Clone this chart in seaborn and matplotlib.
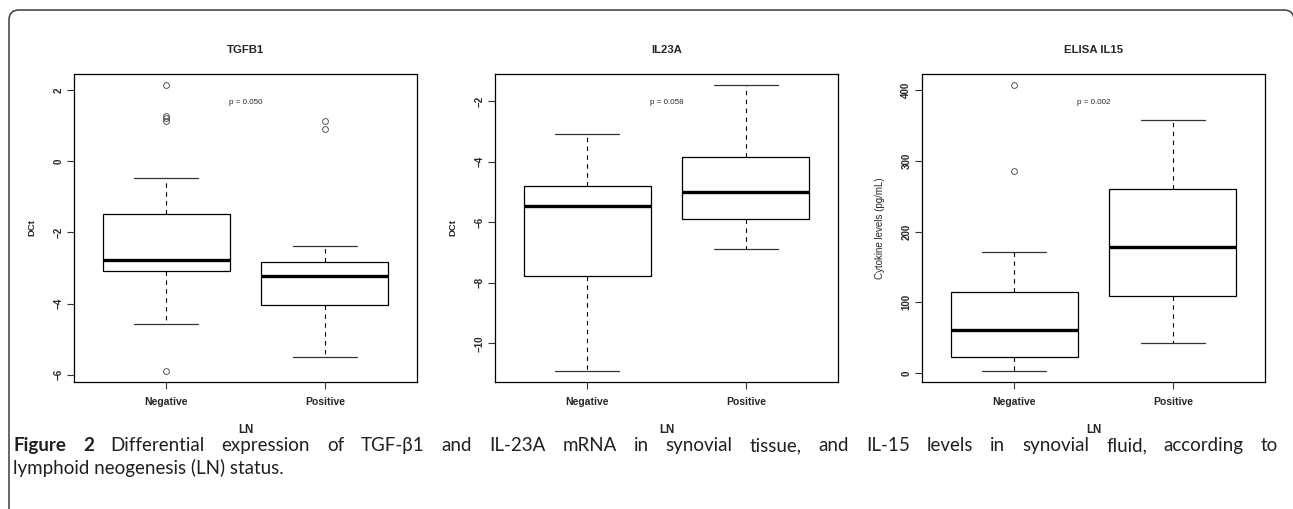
import matplotlib
matplotlib.use("Agg")
import matplotlib.pyplot as plt
import seaborn as sns
import pandas as pd
from matplotlib.patches import FancyBboxPatch

W, H = 1293, 509

groups = ["Negative", "Positive"]

tgfb1_neg = [-5.88, -4.57, -3.9, -3.5, -3.2, -3.08, -3.0, -2.95, -2.9, -2.85, -2.78,
             -2.6, -2.3, -2.0, -1.7, -1.48, -0.48, 1.14, 1.21, 1.28, 2.13]
tgfb1_pos = [-5.49, -4.8, -4.3, -4.04, -3.7, -3.4, -3.22, -3.1, -2.95, -2.84, -2.39, 0.91, 1.12]
il23a_neg = [-10.9, -9.2, -7.76, -6.4, -5.45, -5.1, -4.8, -3.9, -3.1]
il23a_pos = [-6.9, -6.3, -5.89, -5.4, -5.0, -4.5, -3.84, -2.7, -1.48]
il15_neg = [3.5, 10, 16, 22.2, 35, 48, 60.7, 75, 95, 114.3, 170.8, 285.7, 406.5]
il15_pos = [42.4, 80, 108.3, 150, 178.8, 220, 259.7, 310, 358]

titles = ["TGFB1", "IL23A", "ELISA IL15"]
ylabels = ["DCt", "DCt", "Cytokine levels (pg/mL)"]
pvals = ["p = 0.050", "p = 0.058", "p = 0.002"]
yticks = [[-6, -4, -2, 0, 2], [-10, -8, -6, -4, -2], [0, 100, 200, 300, 400]]
panel_data = [(tgfb1_neg, tgfb1_pos), (il23a_neg, il23a_pos), (il15_neg, il15_pos)]

caption_1 = [("Figure", True), ("2", True)] + [(w, False) for w in
             "Differential expression of TGF-\u03b21 and IL-23A mRNA in synovial tissue, "
             "and IL-15 levels in synovial fluid, according to".split()]
caption_2 = "lymphoid neogenesis (LN) status."

sns.set_style("white")
plt.rcParams["font.family"] = ["Liberation Sans", "DejaVu Sans"]

fig = plt.figure(figsize=(W / 100, H / 100), dpi=100)

lefts = [74, 495, 922]
ax_w, ax_top, ax_bot = 343, 74, 382

for i in range(3):
    neg, pos = panel_data[i]
    df = pd.DataFrame({"LN": [groups[0]] * len(neg) + [groups[1]] * len(pos),
                       "value": neg + pos})
    ax = fig.add_axes([lefts[i] / W, (H - ax_bot) / H, ax_w / W, (ax_bot - ax_top) / H])
    sns.boxplot(data=df, x="LN", y="value", order=groups, ax=ax, width=0.8,
                color="white", linecolor="black", linewidth=0.9, fliersize=4.2,
                whiskerprops=dict(linestyle=(0, (4, 4)), linewidth=0.8),
                capprops=dict(linewidth=0.9, color="#333333"),
                medianprops=dict(linewidth=2.4, color="black"),
                flierprops=dict(marker="o", markerfacecolor="none",
                                markeredgecolor="#555555", markeredgewidth=0.7))
    vals = neg + pos
    lo, hi = min(vals), max(vals)
    pad = 0.04 * (hi - lo)
    ax.set_ylim(lo - pad, hi + pad)
    ax.set_xlim(-0.58, 1.58)
    for s in ax.spines.values():
        s.set_visible(True)
        s.set_color("black")
        s.set_linewidth(0.9)
    ax.set_xlabel("")
    ax.set_ylabel("")
    ax.set_xticks([0, 1], labels=groups, fontweight="bold", fontsize=7.5)
    ax.set_yticks(yticks[i], labels=[str(t).replace("-", "\u2212") for t in yticks[i]],
                  fontweight="bold", fontsize=7, rotation=90, va="center")
    ax.tick_params(axis="both", direction="out", length=4.7, width=0.8, color="#333333",
                   bottom=True, left=True)
    ax.tick_params(axis="x", pad=6)
    ax.tick_params(axis="y", pad=3)
    ax.text(0.5, 1 + 24 / 308, titles[i], transform=ax.transAxes, ha="center",
            va="center", fontsize=8.2, fontweight="bold")
    ax.text(0.5, 1 - 29 / 308, pvals[i], transform=ax.transAxes, ha="center",
            va="center", fontsize=5.8)
    ax.text(0.5, -48 / 308, "LN", transform=ax.transAxes, ha="center",
            va="center", fontsize=8.3, fontweight="bold")
    ax.text(-42 / ax_w, 0.5, ylabels[i], transform=ax.transAxes, ha="center",
            va="center", rotation=90, fontsize=7 if i == 2 else 6.8,
            fontweight="normal" if i == 2 else "bold")

# frame around the figure, open at the bottom
frame = FancyBboxPatch((9, -40), 1285, 539, boxstyle="round,pad=0,rounding_size=10",
                       transform=None, facecolor="none", edgecolor="#3a3a3a",
                       linewidth=1.1)
fig.patches.append(frame)

# caption, first line justified across the frame
r = fig.canvas.get_renderer()
x0, x1 = 13, 1278
cap_size = 13.5
cap_kw = dict(family=["Lato", "DejaVu Sans"], color="#231f20", va="baseline",
              fontsize=cap_size)
texts = [fig.text(0, (H - 451) / H, w, fontweight="bold" if b else "normal", **cap_kw)
         for w, b in caption_1]
widths = [t.get_window_extent(r).width for t in texts]
gap = (x1 - x0 - sum(widths)) / (len(texts) - 1)
x = x0
for t, w in zip(texts, widths):
    t.set_x(x / W)
    x += w + gap
fig.text(x0 / W, (H - 474) / H, caption_2, **cap_kw)

fig.savefig("out.png", dpi=100)
